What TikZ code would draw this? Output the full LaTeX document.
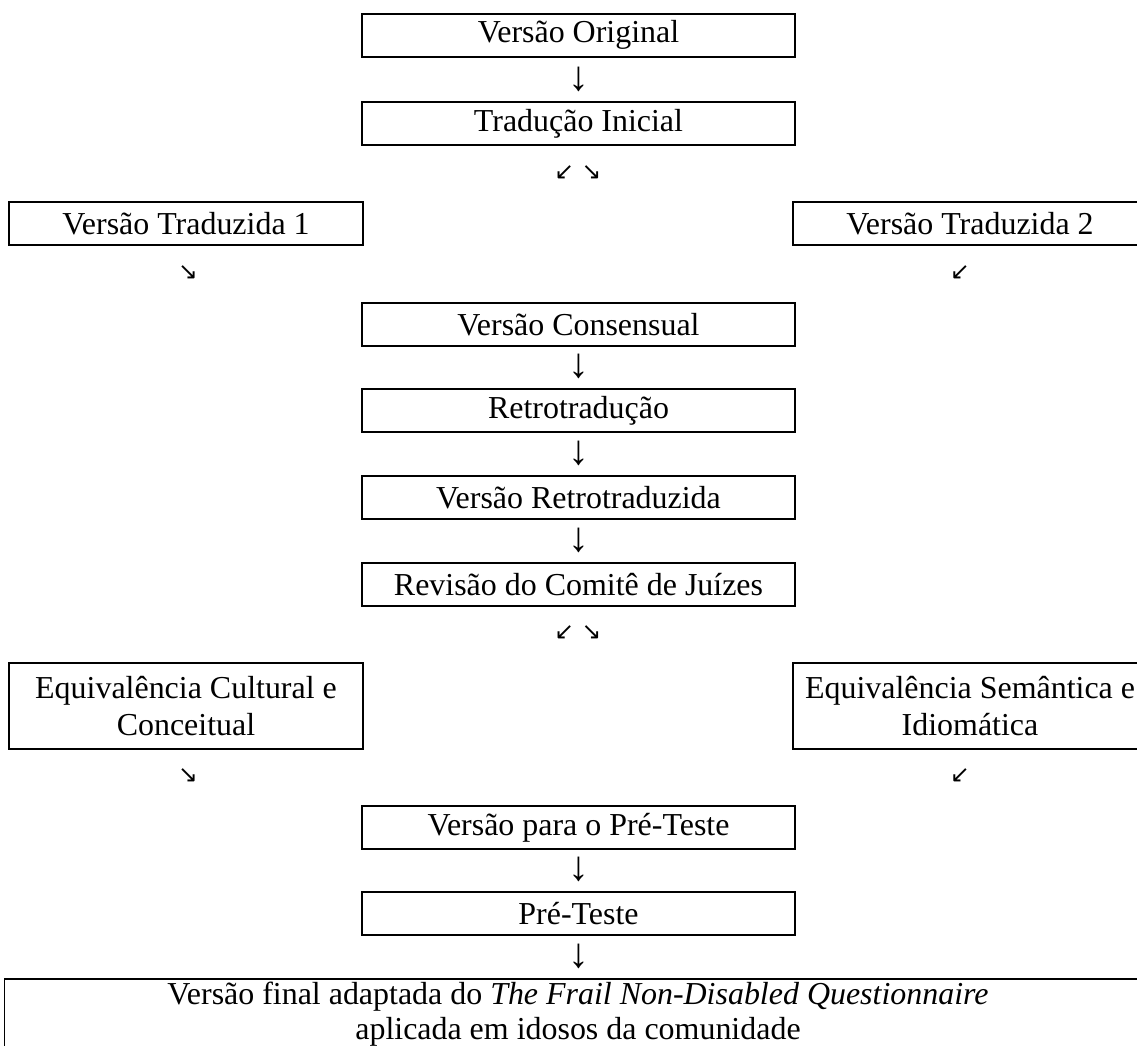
\documentclass[tikz,border=0pt]{standalone}
\usepackage{fontspec}
\setmainfont{Liberation Serif}
\newfontfamily\setafont{DejaVu Sans}

\tikzset{
  etapa/.style={draw, line width=0.6pt, minimum width=155.9pt, minimum height=15.5pt,
    inner sep=0pt, anchor=north, align=center},
  lado/.style={etapa, minimum width=127.4pt},
  seta/.style={inner sep=0pt, font=\fontsize{15}{16}\selectfont},
  diag/.style={inner sep=0pt, font=\setafont\fontsize{8.5}{9}\selectfont},
}

\begin{document}
\begin{tikzpicture}[x=0.36pt, y=-0.36pt, font=\fontsize{11.5}{13.3}\selectfont]
\useasboundingbox (0,0) rectangle (1137,1046);
\clip (0,0) rectangle (1137,1046);

\node[etapa] (orig) at (578.5,13) {Versão Original};
\node[seta] (s1) at (578.5,79) {↓};
\node[etapa] (trad) at (578.5,101) {Tradução Inicial};
\node[diag] (d1) at (578,173) {↙ ↘};

\node[lado] (vt1) at (186,201) {Versão Traduzida 1};
\node[lado] (vt2) at (970,201) {Versão Traduzida 2};
\node[diag] (d2) at (188,273) {↘};
\node[diag] (d3) at (960,273) {↙};

\node[etapa] (cons) at (578.5,302) {Versão Consensual};
\node[seta] (s2) at (578.5,366) {↓};
\node[etapa] (retro) at (578.5,388) {Retrotradução};
\node[seta] (s3) at (578.5,453) {↓};
\node[etapa] (vretro) at (578.5,475) {Versão Retrotraduzida};
\node[seta] (s4) at (578.5,540) {↓};
\node[etapa] (rev) at (578.5,562) {Revisão do Comitê de Juízes};
\node[diag] (d4) at (578,633) {↙ ↘};

\node[lado, minimum height=31pt] (eq1) at (186,662) {Equivalência Cultural e\\Conceitual};
\node[lado, minimum height=31pt] (eq2) at (970,662) {Equivalência Semântica e\\Idiomática};
\node[diag] (d5) at (188,776) {↘};
\node[diag] (d6) at (960,776) {↙};

\node[etapa] (vpre) at (578.5,805) {Versão para o Pré-Teste};
\node[seta] (s5) at (578.5,869) {↓};
\node[etapa] (pre) at (578.5,891) {Pré-Teste};
\node[seta] (s6) at (578.5,956) {↓};

%\node at (578.5,1060) {fim};
\node[etapa, minimum width=413pt, inner ysep=1pt,
  font=\fontsize{11.5}{12.8}\selectfont] (final) at (578,978)
  {Versão final adaptada do \textit{The Frail Non-Disabled Questionnaire}\\aplicada em idosos da comunidade};
\end{tikzpicture}
\end{document}
